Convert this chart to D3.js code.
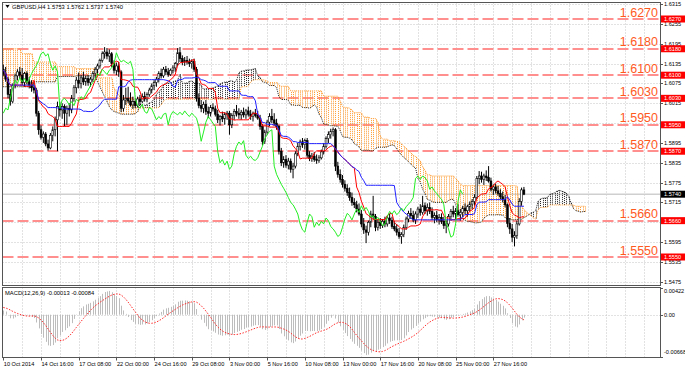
<!DOCTYPE html>
<html>
<head>
<meta charset="utf-8">
<title>GBPUSD,H4</title>
<script src="https://cdn.jsdelivr.net/npm/d3@7/dist/d3.min.js"></script>
<style>
  html, body { margin: 0; padding: 0; background: #fff; }
  svg { display: block; }
  text { font-family: "Liberation Sans", Arial, sans-serif; }
</style>
</head>
<body>
<svg id="chart" width="685" height="369"></svg>
<script>
const chartTitle = 'GBPUSD,H4  1.5753 1.5762 1.5737 1.5740';
const macdTitle = 'MACD(12,26,9) -0.00013 -0.00084';

// H4 candles [open, high, low, close], one array per trading week
const candlesOct10 = [
  [1.6118, 1.6132, 1.6098, 1.6104], [1.6104, 1.6125, 1.6080, 1.6088], [1.6088, 1.6095, 1.6030, 1.6042],
  [1.6042, 1.6058, 1.6008, 1.6020], [1.6020, 1.6075, 1.6015, 1.6070], [1.6070, 1.6105, 1.6060, 1.6098]
];
const candlesOct13 = [
  [1.6098, 1.6118, 1.6085, 1.6110], [1.6110, 1.6125, 1.6090, 1.6100], [1.6100, 1.6122, 1.6070, 1.6078],
  [1.6078, 1.6110, 1.6065, 1.6105], [1.6105, 1.6112, 1.6072, 1.6080], [1.6080, 1.6095, 1.6060, 1.6070],
  [1.6070, 1.6085, 1.6050, 1.6062], [1.6062, 1.6078, 1.6045, 1.6055], [1.6055, 1.6062, 1.5975, 1.5985],
  [1.5985, 1.5992, 1.5920, 1.5935], [1.5935, 1.5948, 1.5905, 1.5912], [1.5912, 1.5930, 1.5895, 1.5922],
  [1.5922, 1.5928, 1.5885, 1.5892], [1.5892, 1.5905, 1.5872, 1.5880], [1.5880, 1.5925, 1.5876, 1.5918],
  [1.5918, 1.5945, 1.5900, 1.5935], [1.5935, 1.5975, 1.5915, 1.5965], [1.5965, 1.6020, 1.5870, 1.6005],
  [1.6005, 1.6018, 1.5975, 1.5995], [1.5995, 1.6015, 1.5968, 1.6005], [1.6005, 1.6012, 1.5945, 1.5985],
  [1.5985, 1.6008, 1.5950, 1.6000], [1.6000, 1.6015, 1.5975, 1.5995], [1.5995, 1.6040, 1.5985, 1.6030],
  [1.6030, 1.6070, 1.6020, 1.6062], [1.6062, 1.6095, 1.6045, 1.6085], [1.6085, 1.6108, 1.6060, 1.6075],
  [1.6075, 1.6100, 1.6060, 1.6092], [1.6092, 1.6110, 1.6070, 1.6080], [1.6080, 1.6098, 1.6068, 1.6090]
];
const candlesOct20 = [
  [1.6090, 1.6100, 1.6068, 1.6078], [1.6078, 1.6095, 1.6065, 1.6088], [1.6088, 1.6112, 1.6080, 1.6105],
  [1.6105, 1.6125, 1.6090, 1.6118], [1.6118, 1.6135, 1.6100, 1.6128], [1.6128, 1.6150, 1.6120, 1.6145],
  [1.6145, 1.6172, 1.6138, 1.6165], [1.6165, 1.6185, 1.6150, 1.6170], [1.6170, 1.6182, 1.6148, 1.6158],
  [1.6158, 1.6178, 1.6140, 1.6165], [1.6165, 1.6170, 1.6125, 1.6135], [1.6135, 1.6145, 1.6105, 1.6115],
  [1.6115, 1.6138, 1.6100, 1.6128], [1.6128, 1.6140, 1.6095, 1.6110], [1.6110, 1.6115, 1.5988, 1.6000],
  [1.6000, 1.6040, 1.5990, 1.6025], [1.6025, 1.6062, 1.6010, 1.6030], [1.6030, 1.6065, 1.6015, 1.6022],
  [1.6022, 1.6048, 1.6005, 1.6010], [1.6010, 1.6035, 1.5998, 1.6020], [1.6020, 1.6030, 1.6000, 1.6008],
  [1.6008, 1.6035, 1.6002, 1.6028], [1.6028, 1.6040, 1.6010, 1.6020], [1.6020, 1.6045, 1.6015, 1.6035],
  [1.6035, 1.6050, 1.6020, 1.6028], [1.6028, 1.6048, 1.6018, 1.6042], [1.6042, 1.6062, 1.6035, 1.6055],
  [1.6055, 1.6075, 1.6045, 1.6068], [1.6068, 1.6085, 1.6055, 1.6078], [1.6078, 1.6095, 1.6065, 1.6088]
];
const candlesOct27 = [
  [1.6088, 1.6112, 1.6078, 1.6105], [1.6105, 1.6120, 1.6090, 1.6098], [1.6098, 1.6125, 1.6092, 1.6118],
  [1.6118, 1.6128, 1.6100, 1.6110], [1.6110, 1.6122, 1.6095, 1.6102], [1.6102, 1.6120, 1.6098, 1.6115],
  [1.6115, 1.6130, 1.6105, 1.6122], [1.6122, 1.6140, 1.6110, 1.6135], [1.6135, 1.6182, 1.6128, 1.6168],
  [1.6168, 1.6185, 1.6140, 1.6150], [1.6150, 1.6160, 1.6130, 1.6140], [1.6140, 1.6155, 1.6128, 1.6145],
  [1.6145, 1.6158, 1.6132, 1.6140], [1.6140, 1.6150, 1.6125, 1.6135], [1.6135, 1.6148, 1.6120, 1.6142],
  [1.6142, 1.6150, 1.6110, 1.6118], [1.6118, 1.6125, 1.6020, 1.6030], [1.6030, 1.6045, 1.6000, 1.6008],
  [1.6008, 1.6025, 1.5988, 1.6000], [1.6000, 1.6020, 1.5985, 1.6012], [1.6012, 1.6025, 1.5980, 1.5990],
  [1.5990, 1.6005, 1.5970, 1.5985], [1.5985, 1.6010, 1.5975, 1.6002], [1.6002, 1.6015, 1.5990, 1.5998],
  [1.5998, 1.6008, 1.5975, 1.5982], [1.5982, 1.5995, 1.5955, 1.5965], [1.5965, 1.5980, 1.5948, 1.5975],
  [1.5975, 1.5990, 1.5958, 1.5968], [1.5968, 1.5988, 1.5950, 1.5982], [1.5982, 1.5992, 1.5965, 1.5985]
];
const candlesNov03 = [
  [1.5985, 1.5992, 1.5920, 1.5950], [1.5950, 1.5985, 1.5940, 1.5978], [1.5978, 1.5998, 1.5965, 1.5990],
  [1.5990, 1.6010, 1.5975, 1.5985], [1.5985, 1.6000, 1.5968, 1.5980], [1.5980, 1.5995, 1.5965, 1.5988],
  [1.5988, 1.6002, 1.5972, 1.5980], [1.5980, 1.5998, 1.5968, 1.5992], [1.5992, 1.6005, 1.5975, 1.5982],
  [1.5982, 1.5995, 1.5965, 1.5975], [1.5975, 1.5990, 1.5960, 1.5985], [1.5985, 1.5998, 1.5972, 1.5978],
  [1.5978, 1.5992, 1.5965, 1.5970], [1.5970, 1.5980, 1.5935, 1.5945], [1.5945, 1.5952, 1.5888, 1.5900],
  [1.5900, 1.5935, 1.5892, 1.5928], [1.5928, 1.5965, 1.5920, 1.5958], [1.5958, 1.5985, 1.5945, 1.5975],
  [1.5975, 1.5998, 1.5955, 1.5965], [1.5965, 1.5985, 1.5948, 1.5955], [1.5955, 1.5968, 1.5935, 1.5945],
  [1.5945, 1.5950, 1.5860, 1.5870], [1.5870, 1.5880, 1.5825, 1.5835], [1.5835, 1.5855, 1.5820, 1.5845],
  [1.5845, 1.5858, 1.5820, 1.5828], [1.5828, 1.5850, 1.5815, 1.5840], [1.5840, 1.5848, 1.5805, 1.5815],
  [1.5815, 1.5835, 1.5788, 1.5825], [1.5825, 1.5870, 1.5818, 1.5862], [1.5862, 1.5895, 1.5855, 1.5885]
];
const candlesNov10 = [
  [1.5885, 1.5905, 1.5872, 1.5898], [1.5898, 1.5910, 1.5880, 1.5890], [1.5890, 1.5908, 1.5875, 1.5902],
  [1.5902, 1.5910, 1.5850, 1.5858], [1.5858, 1.5870, 1.5840, 1.5848], [1.5848, 1.5865, 1.5838, 1.5855],
  [1.5855, 1.5868, 1.5838, 1.5845], [1.5845, 1.5860, 1.5832, 1.5842], [1.5842, 1.5858, 1.5835, 1.5850],
  [1.5850, 1.5875, 1.5845, 1.5868], [1.5868, 1.5895, 1.5860, 1.5885], [1.5885, 1.5915, 1.5878, 1.5908],
  [1.5908, 1.5930, 1.5895, 1.5920], [1.5920, 1.5938, 1.5908, 1.5930], [1.5930, 1.5942, 1.5915, 1.5935],
  [1.5935, 1.5940, 1.5810, 1.5825], [1.5825, 1.5838, 1.5790, 1.5800], [1.5800, 1.5815, 1.5775, 1.5785],
  [1.5785, 1.5798, 1.5760, 1.5770], [1.5770, 1.5782, 1.5748, 1.5758], [1.5758, 1.5770, 1.5735, 1.5745],
  [1.5745, 1.5760, 1.5720, 1.5730], [1.5730, 1.5745, 1.5705, 1.5715], [1.5715, 1.5728, 1.5698, 1.5708],
  [1.5708, 1.5720, 1.5685, 1.5695], [1.5695, 1.5712, 1.5675, 1.5680], [1.5680, 1.5692, 1.5640, 1.5650],
  [1.5650, 1.5668, 1.5620, 1.5632], [1.5632, 1.5645, 1.5592, 1.5625], [1.5625, 1.5660, 1.5615, 1.5655]
];
const candlesNov17 = [
  [1.5655, 1.5690, 1.5640, 1.5680], [1.5680, 1.5735, 1.5665, 1.5672], [1.5672, 1.5680, 1.5628, 1.5640],
  [1.5640, 1.5662, 1.5630, 1.5655], [1.5655, 1.5668, 1.5635, 1.5645], [1.5645, 1.5665, 1.5638, 1.5658],
  [1.5658, 1.5672, 1.5640, 1.5650], [1.5650, 1.5675, 1.5642, 1.5668], [1.5668, 1.5680, 1.5650, 1.5660],
  [1.5660, 1.5672, 1.5635, 1.5642], [1.5642, 1.5658, 1.5628, 1.5635], [1.5635, 1.5650, 1.5615, 1.5625],
  [1.5625, 1.5638, 1.5605, 1.5612], [1.5612, 1.5625, 1.5590, 1.5618], [1.5618, 1.5648, 1.5610, 1.5640],
  [1.5640, 1.5672, 1.5632, 1.5665], [1.5665, 1.5690, 1.5655, 1.5682], [1.5682, 1.5698, 1.5665, 1.5675],
  [1.5675, 1.5690, 1.5655, 1.5662], [1.5662, 1.5688, 1.5650, 1.5680], [1.5680, 1.5702, 1.5668, 1.5695],
  [1.5695, 1.5710, 1.5675, 1.5685], [1.5685, 1.5735, 1.5678, 1.5705], [1.5705, 1.5715, 1.5680, 1.5690],
  [1.5690, 1.5712, 1.5675, 1.5700], [1.5700, 1.5715, 1.5680, 1.5688], [1.5688, 1.5700, 1.5662, 1.5670],
  [1.5670, 1.5685, 1.5652, 1.5675], [1.5675, 1.5690, 1.5655, 1.5662], [1.5662, 1.5680, 1.5648, 1.5670]
];
const candlesNov24 = [
  [1.5670, 1.5682, 1.5650, 1.5658], [1.5658, 1.5672, 1.5635, 1.5645], [1.5645, 1.5660, 1.5622, 1.5650],
  [1.5650, 1.5680, 1.5642, 1.5672], [1.5672, 1.5695, 1.5660, 1.5688], [1.5688, 1.5705, 1.5670, 1.5680],
  [1.5680, 1.5698, 1.5665, 1.5690], [1.5690, 1.5710, 1.5672, 1.5678], [1.5678, 1.5695, 1.5660, 1.5685],
  [1.5685, 1.5705, 1.5670, 1.5698], [1.5698, 1.5712, 1.5680, 1.5690], [1.5690, 1.5708, 1.5672, 1.5702],
  [1.5702, 1.5718, 1.5688, 1.5710], [1.5710, 1.5725, 1.5695, 1.5718], [1.5718, 1.5740, 1.5705, 1.5730],
  [1.5730, 1.5795, 1.5725, 1.5788], [1.5788, 1.5810, 1.5770, 1.5795], [1.5795, 1.5808, 1.5775, 1.5785],
  [1.5785, 1.5802, 1.5768, 1.5795], [1.5795, 1.5812, 1.5780, 1.5790], [1.5790, 1.5825, 1.5775, 1.5780],
  [1.5780, 1.5790, 1.5748, 1.5755], [1.5755, 1.5770, 1.5738, 1.5762], [1.5762, 1.5772, 1.5742, 1.5750],
  [1.5750, 1.5765, 1.5735, 1.5742], [1.5742, 1.5755, 1.5725, 1.5732], [1.5732, 1.5748, 1.5715, 1.5725],
  [1.5725, 1.5738, 1.5700, 1.5708], [1.5708, 1.5712, 1.5640, 1.5652], [1.5652, 1.5668, 1.5620, 1.5635]
];
const candlesDec01 = [
  [1.5635, 1.5650, 1.5595, 1.5610], [1.5610, 1.5628, 1.5582, 1.5615], [1.5615, 1.5660, 1.5605, 1.5650],
  [1.5650, 1.5728, 1.5645, 1.5718], [1.5718, 1.5760, 1.5705, 1.5753], [1.5753, 1.5762, 1.5737, 1.5740]
];

// cloud over the first 56 bars (it depends on bars before the visible window)
const kumoHeadA = [
  1.6065, 1.6065, 1.6065, 1.6065, 1.6065, 1.6065, 1.6065, 1.6065, 1.6065, 1.6065, 1.6065, 1.6065, 1.6065,
  1.6080, 1.6080, 1.6080, 1.6080, 1.6080, 1.6080, 1.6080, 1.6080, 1.6080, 1.6080,
  1.6096, 1.6096, 1.6096, 1.6096, 1.6096, 1.6096, 1.6096, 1.6096,
  1.6098, 1.6098, 1.6098, 1.6098, 1.6098, 1.6098, 1.6098, 1.6098, 1.6098,
  1.6080, 1.6065, 1.6050, 1.6035, 1.6020, 1.6005, 1.5995, 1.5990, 1.5988, 1.5985,
  1.5982, 1.5982, 1.5982, 1.5982, 1.5982, 1.5982
];
const kumoHeadB = [
  1.6180, 1.6180, 1.6180, 1.6180, 1.6180, 1.6180, 1.6180, 1.6180, 1.6165, 1.6165, 1.6165, 1.6165, 1.6165,
  1.6140, 1.6140, 1.6140, 1.6140, 1.6140, 1.6140, 1.6140, 1.6140, 1.6140, 1.6140,
  1.6126, 1.6126, 1.6126, 1.6126, 1.6126, 1.6126, 1.6126, 1.6126,
  1.6120, 1.6120, 1.6120, 1.6120, 1.6120, 1.6120, 1.6120, 1.6120, 1.6120,
  1.6092, 1.6092, 1.6092, 1.6092, 1.6092, 1.6092, 1.6092, 1.6060, 1.6050, 1.6040,
  1.6030, 1.6030, 1.6030, 1.6030, 1.6030, 1.6030
];

// MACD state at the left edge
const macdSeed = { fast: 1.6102, slow: 1.6095, priorMain: 0.0012 };

const levels = [1.6270, 1.6180, 1.6100, 1.6030, 1.5950, 1.5870, 1.5660, 1.5550];
const priceTicks = [1.6315, 1.6255, 1.6195, 1.6135, 1.6075, 1.6015, 1.5955, 1.5895, 1.5835, 1.5775, 1.5715, 1.5655,
  1.5595, 1.5535, 1.5475];
const bidPrice = 1.5740;
const macdTicks = [
  { value: 0.00422, label: '0.00422' },
  { value: 0, label: '0.00' },
  { value: -0.00668, label: '-0.00668' }
];
const timeLabels = ['10 Oct 2014', '14 Oct 16:00', '17 Oct 08:00', '22 Oct 00:00', '24 Oct 16:00', '29 Oct 08:00',
  '3 Nov 00:00', '5 Nov 16:00', '10 Nov 08:00', '13 Nov 00:00', '17 Nov 16:00', '20 Nov 08:00', '25 Nov 00:00',
  '27 Nov 16:00'];
const barsPerLabel = 16;
const barsPerGrid = 8;

const candles = [
  ...candlesOct10, ...candlesOct13, ...candlesOct20, ...candlesOct27,
  ...candlesNov03, ...candlesNov10, ...candlesNov17, ...candlesNov24, ...candlesDec01
].map(([open, high, low, close], index) => ({ index, open, high, low, close }));

// Ichimoku (9, 26, 52)
function midRange(from, to) {
  const slice = candles.slice(Math.max(0, from), to + 1);
  return (d3.max(slice, (d) => d.high) + d3.min(slice, (d) => d.low)) / 2;
}
const tenkan = candles.map((d, i) => midRange(i - 8, i));
const kijun = candles.map((d, i) => midRange(i - 25, i));
const headLength = kumoHeadA.length;
const spanA = [...kumoHeadA, ...candles.slice(headLength - 26).map((d) => (tenkan[d.index] + kijun[d.index]) / 2)];
const spanB = [...kumoHeadB, ...candles.slice(headLength - 26).map((d) => midRange(d.index - 51, d.index))];
const kumo = spanA.map((a, bar) => ({ bar, a, b: spanB[bar] }));
const chikou = candles.slice(26).map((d) => ({ bar: d.index - 26, value: d.close }));

// MACD (12, 26, 9)
const macdMain = [];
let emaFast = macdSeed.fast;
let emaSlow = macdSeed.slow;
candles.forEach((d) => {
  emaFast += (2 / 13) * (d.close - emaFast);
  emaSlow += (2 / 27) * (d.close - emaSlow);
  macdMain.push(emaFast - emaSlow);
});
const macdSignal = macdMain.map((v, i) => {
  let sum = 0;
  for (let k = i - 8; k <= i; k++) sum += k < 0 ? macdSeed.priorMain : macdMain[k];
  return sum / 9;
});

const frame = { left: 2.5, right: 660.5, top: 2.5, mainBottom: 285.5, macdTop: 287.5, bottom: 357.5 };

const x = d3.scaleLinear().domain([0, 208]).range([3.3, 493.3]);
const y = d3.scaleLinear().domain([1.555, 1.627]).range([257, 19]);
const yMacd = d3.scaleLinear().domain([-0.00668, 0.00422]).range([357, 288]);
const snap = (v) => Math.round(v) + 0.5;

const svg = d3.select('#chart');
svg.append('rect').attr('width', 685).attr('height', 369).attr('fill', '#fff');

const defs = svg.append('defs');
defs.append('clipPath').attr('id', 'clip-main')
  .append('rect')
  .attr('x', frame.left).attr('y', frame.top)
  .attr('width', frame.right - frame.left).attr('height', frame.mainBottom - frame.top);
defs.append('clipPath').attr('id', 'clip-macd')
  .append('rect')
  .attr('x', frame.left).attr('y', frame.macdTop)
  .attr('width', frame.right - frame.left).attr('height', frame.bottom - frame.macdTop);

// grid
const gridBars = d3.range(barsPerGrid, 300, barsPerGrid).filter((b) => x(b) < frame.right - 1);
const grid = svg.append('g').attr('stroke', '#c4c4c4').attr('stroke-dasharray', '1,2').attr('fill', 'none');
grid.selectAll('line.v-main')
  .data(gridBars)
  .join('line')
  .attr('class', 'v-main')
  .attr('x1', (d) => snap(x(d))).attr('x2', (d) => snap(x(d)))
  .attr('y1', frame.top).attr('y2', frame.mainBottom);
grid.selectAll('line.v-macd')
  .data(gridBars)
  .join('line')
  .attr('class', 'v-macd')
  .attr('x1', (d) => snap(x(d))).attr('x2', (d) => snap(x(d)))
  .attr('y1', frame.macdTop).attr('y2', frame.bottom);
grid.selectAll('line.h')
  .data(priceTicks.filter((p) => y(p) > frame.top + 1 && y(p) < frame.mainBottom - 1))
  .join('line')
  .attr('class', 'h')
  .attr('x1', frame.left).attr('x2', frame.right)
  .attr('y1', (d) => snap(y(d))).attr('y2', (d) => snap(y(d)));
grid.append('line')
  .attr('x1', frame.left).attr('x2', frame.right)
  .attr('y1', snap(yMacd(0))).attr('y2', snap(yMacd(0)));

const main = svg.append('g').attr('clip-path', 'url(#clip-main)');

// horizontal levels
main.append('g')
  .selectAll('line')
  .data(levels)
  .join('line')
  .attr('x1', frame.left).attr('x2', frame.right)
  .attr('y1', (d) => Math.round(y(d))).attr('y2', (d) => Math.round(y(d)))
  .attr('stroke', '#ff8e8e')
  .attr('stroke-width', 2)
  .attr('stroke-dasharray', '11,4');

// bid line
main.append('line')
  .attr('x1', frame.left).attr('x2', frame.right)
  .attr('y1', y(bidPrice)).attr('y2', y(bidPrice))
  .attr('stroke', '#cfcfcf')
  .attr('stroke-width', 1.6);

// kumo hatching
main.append('g')
  .selectAll('line')
  .data(kumo)
  .join('line')
  .attr('x1', (d) => snap(x(d.bar))).attr('x2', (d) => snap(x(d.bar)))
  .attr('y1', (d) => y(d.a)).attr('y2', (d) => y(d.b))
  .attr('stroke', (d) => (d.a >= d.b ? '#222' : '#ff9a2e'))
  .attr('stroke-width', 1)
  .attr('stroke-dasharray', '1,1');

const spanLine = (key) => d3.line().x((d) => x(d.bar)).y((d) => y(d[key]));
main.append('path')
  .attr('d', spanLine('b')(kumo))
  .attr('fill', 'none').attr('stroke', '#ff9a2e').attr('stroke-dasharray', '1,1');
main.append('path')
  .attr('d', spanLine('a')(kumo))
  .attr('fill', 'none').attr('stroke', '#222').attr('stroke-dasharray', '1,1');

// candles
const candleGroup = main.append('g');
candleGroup.selectAll('line')
  .data(candles)
  .join('line')
  .attr('x1', (d) => x(d.index)).attr('x2', (d) => x(d.index))
  .attr('y1', (d) => y(d.high)).attr('y2', (d) => y(d.low))
  .attr('stroke', '#000').attr('stroke-width', 1);
candleGroup.selectAll('rect')
  .data(candles)
  .join('rect')
  .attr('x', (d) => x(d.index) - 0.9)
  .attr('width', 1.8)
  .attr('y', (d) => y(Math.max(d.open, d.close)))
  .attr('height', (d) => Math.max(0.8, Math.abs(y(d.open) - y(d.close))))
  .attr('fill', (d) => (d.close >= d.open ? '#fff' : '#000'))
  .attr('stroke', '#000')
  .attr('stroke-width', 0.6);

// ichimoku lines
const barLine = d3.line().x((d, i) => x(i)).y((d) => y(d));
main.append('path').attr('d', barLine(tenkan)).attr('fill', 'none').attr('stroke', '#ff0000').attr('stroke-width', 1);
main.append('path').attr('d', barLine(kijun)).attr('fill', 'none').attr('stroke', '#2020ff').attr('stroke-width', 1);
main.append('path')
  .attr('d', d3.line().x((d) => x(d.bar)).y((d) => y(d.value))(chikou))
  .attr('fill', 'none').attr('stroke', '#22ee22').attr('stroke-width', 1);

// level labels
svg.append('g')
  .selectAll('text')
  .data(levels)
  .join('text')
  .attr('x', 658)
  .attr('y', (d) => y(d) - 2.5)
  .attr('text-anchor', 'end')
  .attr('font-size', 12.5)
  .attr('fill', '#ff5a1e')
  .text((d) => d.toFixed(4));

// MACD
const macd = svg.append('g').attr('clip-path', 'url(#clip-macd)');
macd.append('g')
  .selectAll('line')
  .data(macdMain)
  .join('line')
  .attr('x1', (d, i) => snap(x(i))).attr('x2', (d, i) => snap(x(i)))
  .attr('y1', yMacd(0)).attr('y2', (d) => yMacd(d))
  .attr('stroke', '#bdbdbd').attr('stroke-width', 1);
macd.append('path')
  .attr('d', d3.line().x((d, i) => x(i)).y((d) => yMacd(d))(macdSignal))
  .attr('fill', 'none').attr('stroke', '#ff2a2a').attr('stroke-width', 1).attr('stroke-dasharray', '1.5,1.5');

// frames
const border = svg.append('g').attr('fill', 'none').attr('stroke', '#555').attr('stroke-width', 1);
border.append('rect')
  .attr('x', frame.left).attr('y', frame.top)
  .attr('width', frame.right - frame.left).attr('height', frame.mainBottom - frame.top);
border.append('rect')
  .attr('x', frame.left).attr('y', frame.macdTop)
  .attr('width', frame.right - frame.left).attr('height', frame.bottom - frame.macdTop);

// price axis
const axisFont = 5.6;
const priceAxis = svg.append('g').attr('font-size', axisFont).attr('fill', '#000');
const tickList = priceTicks.filter((p) => levels.every((l) => Math.abs(y(p) - y(l)) > 3) && Math.abs(y(p) - y(bidPrice)) > 3);
priceAxis.selectAll('line')
  .data(priceTicks)
  .join('line')
  .attr('x1', frame.right).attr('x2', frame.right + 2.5)
  .attr('y1', (d) => snap(y(d))).attr('y2', (d) => snap(y(d)))
  .attr('stroke', '#555');
priceAxis.selectAll('text')
  .data(tickList)
  .join('text')
  .attr('x', 664)
  .attr('y', (d) => y(d) + 2)
  .text((d) => d.toFixed(4));

const boxes = svg.append('g').attr('font-size', axisFont);
const boxData = [...levels.map((v) => ({ v, color: '#ff0000' })), { v: bidPrice, color: '#000' }];
boxes.selectAll('rect')
  .data(boxData)
  .join('rect')
  .attr('x', 661).attr('width', 24)
  .attr('y', (d) => y(d.v) - 3.5).attr('height', 7)
  .attr('fill', (d) => d.color);
boxes.selectAll('text')
  .data(boxData)
  .join('text')
  .attr('x', 664)
  .attr('y', (d) => y(d.v) + 2)
  .attr('fill', '#fff')
  .text((d) => d.v.toFixed(4));

// MACD axis
const macdAxis = svg.append('g').attr('font-size', axisFont);
macdAxis.selectAll('line')
  .data(macdTicks)
  .join('line')
  .attr('x1', frame.right).attr('x2', frame.right + 2.5)
  .attr('y1', (d) => snap(yMacd(d.value))).attr('y2', (d) => snap(yMacd(d.value)))
  .attr('stroke', '#555');
macdAxis.selectAll('text')
  .data(macdTicks)
  .join('text')
  .attr('x', 664)
  .attr('y', (d) => Math.min(Math.max(yMacd(d.value) + 2, 293), 354))
  .text((d) => d.label);

// time axis
const timeAxis = svg.append('g').attr('font-size', axisFont).attr('fill', '#000');
timeAxis.selectAll('line')
  .data(timeLabels)
  .join('line')
  .attr('x1', (d, i) => snap(x(i * barsPerLabel))).attr('x2', (d, i) => snap(x(i * barsPerLabel)))
  .attr('y1', frame.bottom).attr('y2', frame.bottom + 3)
  .attr('stroke', '#555');
timeAxis.selectAll('text')
  .data(timeLabels)
  .join('text')
  .attr('x', (d, i) => x(i * barsPerLabel) + 0.5)
  .attr('y', 366)
  .text((d) => d);

// titles
svg.append('path').attr('d', 'M5.5,5 L9.5,5 L7.5,8 Z').attr('fill', '#000');
svg.append('text').attr('x', 12).attr('y', 9.2).attr('font-size', 5.8).attr('fill', '#000').text(chartTitle);
svg.append('text').attr('x', 5).attr('y', 295).attr('font-size', 5.8).attr('fill', '#000').text(macdTitle);
</script>
</body>
</html>
